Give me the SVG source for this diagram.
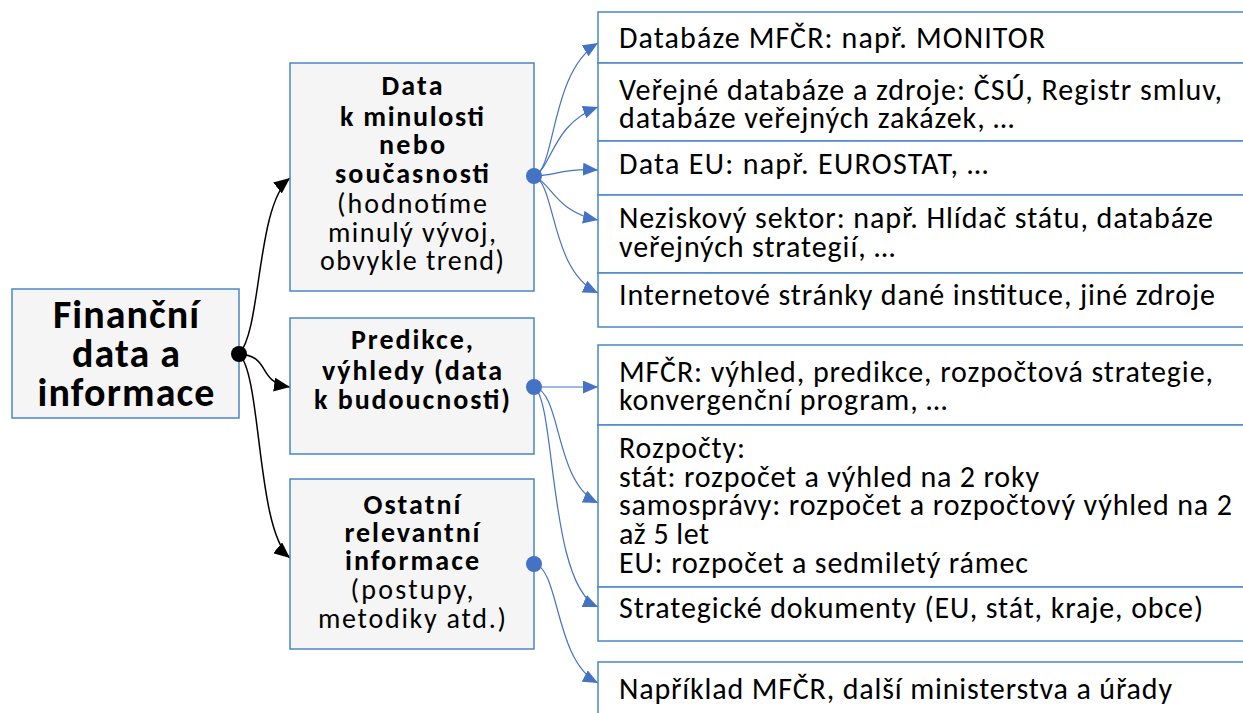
<svg xmlns="http://www.w3.org/2000/svg" width="1243" height="713" viewBox="0 0 1243 713">
  <style>
    .hub { fill: #f5f5f5; stroke: #4a86c8; stroke-width: 1.5; }
    .leaf { fill: #ffffff; stroke: #4a86c8; stroke-width: 1.5; }
    text { font-family: Carlito, Lato, "Liberation Sans", sans-serif; fill: #000000; }
    .root { font-size: 40px; font-weight: bold; text-anchor: middle; }
    .hb { font-size: 28px; font-weight: bold; text-anchor: middle; }
    .hr { font-size: 28px; text-anchor: middle; }
    .lt { font-size: 30px; }
    .blk { fill: none; stroke: #000000; stroke-width: 1.5; }
    .blu { fill: none; stroke: #4472c4; stroke-width: 1.2; }
  </style>
  <defs>
    <marker id="ah-black" markerUnits="userSpaceOnUse" viewBox="0 0 16 14" refX="16" refY="7" markerWidth="16" markerHeight="14" orient="auto">
      <path d="M0,0 L16,7 L0,14 z" fill="#000000"/>
    </marker>
    <marker id="ah-blue" markerUnits="userSpaceOnUse" viewBox="0 0 15 13" refX="15" refY="6.5" markerWidth="15" markerHeight="13" orient="auto">
      <path d="M0,0 L15,6.5 L0,13 z" fill="#4472c4"/>
    </marker>
    <clipPath id="clip-budgets">
      <rect x="598" y="425" width="660" height="162"/>
    </clipPath>
  </defs>

  <!-- connectors -->
  <g id="connectors">
    <path class="blk" d="M239,354 C262,330 256,205 290,178" marker-end="url(#ah-black)"/>
    <path class="blk" d="M239,354 C272,356 256,382 290,387" marker-end="url(#ah-black)"/>
    <path class="blk" d="M239,354 C262,375 256,530 290,558" marker-end="url(#ah-black)"/>

    <path class="blu" d="M534,176 C556,170 550,72 598,43" marker-end="url(#ah-blue)"/>
    <path class="blu" d="M534,176 C552,168 552,124 598,107" marker-end="url(#ah-blue)"/>
    <path class="blu" d="M534,176 C556,176 562,168 598,170" marker-end="url(#ah-blue)"/>
    <path class="blu" d="M534,176 C552,184 556,212 598,220" marker-end="url(#ah-blue)"/>
    <path class="blu" d="M534,176 C556,184 550,270 598,293" marker-end="url(#ah-blue)"/>

    <path class="blu" d="M534,387 L598,387" marker-end="url(#ah-blue)"/>
    <path class="blu" d="M534,387 C562,392 554,482 598,503" marker-end="url(#ah-blue)"/>
    <path class="blu" d="M534,387 C556,400 548,585 598,607" marker-end="url(#ah-blue)"/>
    <path class="blu" d="M534,564 C560,568 554,660 598,683" marker-end="url(#ah-blue)"/>
  </g>

  <!-- root -->
  <g id="node-root">
    <rect class="hub" x="12" y="289" width="227" height="129"/>
    <text class="root" x="126" y="328" textLength="146">Finanční</text>
    <text class="root" x="126" y="367" textLength="108">data a</text>
    <text class="root" x="126" y="406" textLength="177">informace</text>
    <circle cx="239" cy="354" r="8" fill="#000000"/>
  </g>

  <!-- categories -->
  <g id="node-past">
    <rect class="hub" x="290" y="63" width="244" height="228"/>
    <text class="hb" x="412" y="95" textLength="61">Data</text>
    <text class="hb" x="412" y="126" textLength="144">k minulosti</text>
    <text class="hb" x="412" y="154" textLength="66">nebo</text>
    <text class="hb" x="412" y="183" textLength="154">současnosti</text>
    <text class="hr" x="412" y="213" textLength="150">(hodnotíme</text>
    <text class="hr" x="412" y="242" textLength="168">minulý vývoj,</text>
    <text class="hr" x="412" y="270" textLength="184">obvykle trend)</text>
    <circle cx="534" cy="176" r="8" fill="#4472c4"/>
  </g>

  <g id="node-future">
    <rect class="hub" x="290" y="318" width="244" height="136"/>
    <text class="hb" x="412" y="349" textLength="122">Predikce,</text>
    <text class="hb" x="412" y="380" textLength="180">výhledy (data</text>
    <text class="hb" x="412" y="409" textLength="196">k budoucnosti)</text>
    <circle cx="534" cy="387" r="8" fill="#4472c4"/>
  </g>

  <g id="node-other">
    <rect class="hub" x="290" y="479" width="244" height="170"/>
    <text class="hb" x="412" y="514" textLength="97">Ostatní</text>
    <text class="hb" x="412" y="542" textLength="135">relevantní</text>
    <text class="hb" x="412" y="570" textLength="134">informace</text>
    <text class="hr" x="412" y="599" textLength="123">(postupy,</text>
    <text class="hr" x="412" y="628" textLength="188">metodiky atd.)</text>
    <circle cx="534" cy="564" r="8" fill="#4472c4"/>
  </g>

  <!-- sources: past and present data -->
  <g id="leaf-monitor">
    <rect class="leaf" x="598" y="12" width="660" height="51"/>
    <text class="lt" x="619" y="48" textLength="426">Databáze MFČR: např. MONITOR</text>
  </g>
  <g id="leaf-public">
    <rect class="leaf" x="598" y="63" width="660" height="78"/>
    <text class="lt" x="619" y="100" textLength="603">Veřejné databáze a zdroje: ČSÚ, Registr smluv,</text>
    <text class="lt" x="619" y="128" textLength="395">databáze veřejných zakázek, …</text>
  </g>
  <g id="leaf-eu">
    <rect class="leaf" x="598" y="141" width="660" height="54"/>
    <text class="lt" x="619" y="174" textLength="369">Data EU: např. EUROSTAT, …</text>
  </g>
  <g id="leaf-ngo">
    <rect class="leaf" x="598" y="195" width="660" height="78"/>
    <text class="lt" x="619" y="228" textLength="594">Neziskový sektor: např. Hlídač státu, databáze</text>
    <text class="lt" x="619" y="257" textLength="276">veřejných strategií, …</text>
  </g>
  <g id="leaf-web">
    <rect class="leaf" x="598" y="273" width="660" height="54"/>
    <text class="lt" x="619" y="305" textLength="596">Internetové stránky dané instituce, jiné zdroje</text>
  </g>

  <!-- sources: outlooks -->
  <g id="leaf-outlook">
    <rect class="leaf" x="598" y="345" width="660" height="80"/>
    <text class="lt" x="619" y="382" textLength="594">MFČR: výhled, predikce, rozpočtová strategie,</text>
    <text class="lt" x="619" y="410" textLength="328">konvergenční program, …</text>
  </g>
  <g id="leaf-budgets">
    <rect class="leaf" x="598" y="425" width="660" height="162"/>
    <g clip-path="url(#clip-budgets)">
      <text class="lt" x="619" y="458" textLength="126">Rozpočty:</text>
      <text class="lt" x="619" y="487" textLength="420">stát: rozpočet a výhled na 2 roky</text>
      <text class="lt" x="619" y="515" textLength="613">samosprávy: rozpočet a rozpočtový výhled na 2</text>
      <text class="lt" x="619" y="544" textLength="90">až 5 let</text>
      <text class="lt" x="619" y="573" textLength="409">EU: rozpočet a sedmiletý rámec</text>
    </g>
  </g>
  <g id="leaf-strategy">
    <rect class="leaf" x="598" y="587" width="660" height="54"/>
    <text class="lt" x="619" y="618" textLength="584">Strategické dokumenty (EU, stát, kraje, obce)</text>
  </g>

  <!-- sources: other information -->
  <g id="leaf-ministries">
    <rect class="leaf" x="598" y="662" width="660" height="70"/>
    <text class="lt" x="619" y="699" textLength="553">Například MFČR, další ministerstva a úřady</text>
  </g>
</svg>
